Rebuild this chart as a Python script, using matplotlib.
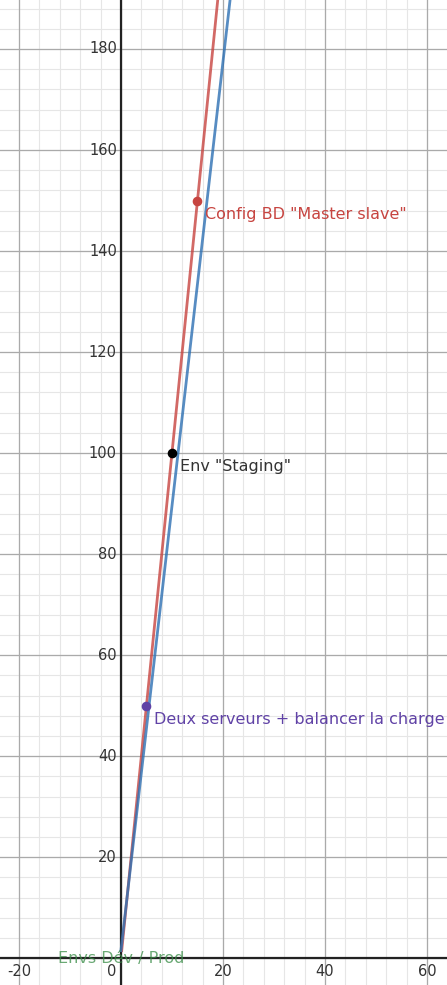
import matplotlib.pyplot as plt
import numpy as np

# points and labels
pt_x = [5, 10, 15]
pt_y = [50, 100, 150]
pt_labels = ["Deux serveurs + balancer la charge", 'Env "Staging"', 'Config BD "Master slave"']
pt_colors = ["#6042a6", "#000000", "#c74440"]
red_slope = 10
blue_slope = 8.8
start_y = 1.5

fig = plt.figure(figsize=(4.47, 9.85), dpi=100)
ax = fig.add_axes([0, 0, 1, 1])
ax.set_xlim(-23.7, 63.9)
ax.set_ylim(-5.3, 189.7)

for v in np.arange(-20, 64, 4):
    ax.axvline(v, color="#e6e6e6", lw=0.8, zorder=0)
for v in np.arange(0, 190, 4):
    ax.axhline(v, color="#e6e6e6", lw=0.8, zorder=0)
for v in np.arange(-20, 64, 20):
    ax.axvline(v, color="#aaaaaa", lw=0.9, zorder=0)
for v in np.arange(0, 190, 20):
    ax.axhline(v, color="#aaaaaa", lw=0.9, zorder=0)
ax.axvline(0, color="#222222", lw=1.6, zorder=1)
ax.axhline(0, color="#222222", lw=1.6, zorder=1)

for v in [-20, 20, 40, 60]:
    ax.text(v, -1.2, str(v), ha="center", va="top", fontsize=10.5, color="#333333")
ax.text(-0.8, -1.2, "0", ha="right", va="top", fontsize=10.5, color="#333333")
for v in range(20, 190, 20):
    ax.text(-0.8, v, str(v), ha="right", va="center", fontsize=10.5, color="#333333")

xs = np.linspace(start_y / red_slope, 200 / red_slope, 10)
ax.plot(xs, red_slope * xs, color="#c74440", lw=2, alpha=0.8, zorder=3)
xs = np.linspace(0, 200 / blue_slope, 10)
ax.plot(xs, blue_slope * xs + start_y, color="#2d70b3", lw=2, alpha=0.8, zorder=3)

for x, y, lab, c in zip(pt_x, pt_y, pt_labels, pt_colors):
    ax.scatter([x], [y], s=35, color=c, zorder=5)
    ax.text(x + 1.5, y - 1.2, lab, ha="left", va="top", fontsize=11.5,
            color="#333333" if c == "#000000" else c, zorder=6)
ax.text(0, 0, "Envs Dév / Prod", ha="center", va="center", fontsize=11.5,
        color="#388c46", alpha=0.75, zorder=6)

ax.set_axis_off()
fig.savefig("out.png", dpi=100)
